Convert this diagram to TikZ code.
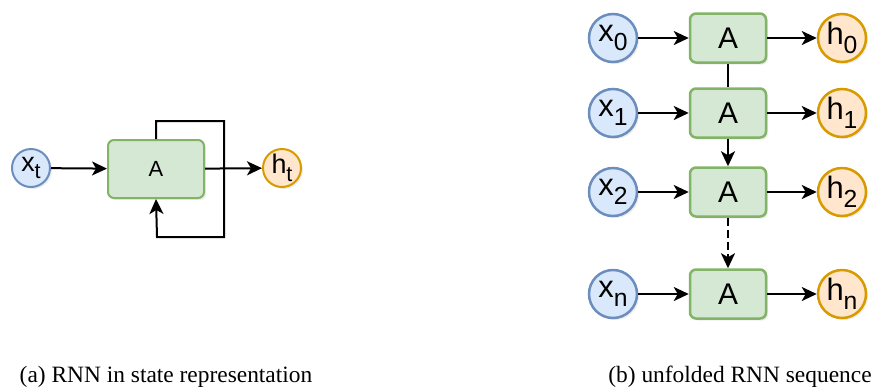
\documentclass[tikz,border=0pt]{standalone}
\usepackage{fontspec}
\setmainfont{Liberation Sans}
\newfontfamily\capfont{Liberation Serif}
\usepackage{graphicx}
\usepackage{xcolor}
\usepackage{tikz}
\usetikzlibrary{arrows.meta,shadows}

\definecolor{inblue}{HTML}{DAE8FC}
\definecolor{inbluedraw}{HTML}{6C8EBF}
\definecolor{cellgreen}{HTML}{D5E8D4}
\definecolor{cellgreendraw}{HTML}{82B366}
\definecolor{outorange}{HTML}{FFE6CC}
\definecolor{outorangedraw}{HTML}{D79B00}

\newcommand{\lsub}[1]{\raisebox{-0.28em}{\scalebox{0.8}{#1}}}

\begin{document}
\begin{tikzpicture}[x=1bp,y=-1bp]
\useasboundingbox (0,0) rectangle (878,387);

\tikzset{
  shadowed/.style={drop shadow={opacity=0.15,shadow xshift=2bp,shadow yshift=-2bp}},
  xin/.style={circle,draw=inbluedraw,fill=inblue,inner sep=0pt,shadowed},
  hout/.style={circle,draw=outorangedraw,fill=outorange,inner sep=0pt,shadowed},
  cell/.style={rectangle,rounded corners=6bp,draw=cellgreendraw,fill=cellgreen,inner sep=0pt,shadowed},
  arr/.style={-{Stealth[length=15bp,width=14bp,inset=4bp]}},
  dashline/.style={dash pattern=on 8bp off 4bp},
  captext/.style={anchor=base,font=\capfont\fontsize{23.5}{26}\selectfont}
}

% (a) state representation
\begin{scope}[line width=2bp]
\node[xin,minimum size=38bp,font=\fontsize{27}{30}\selectfont] (xt) at (31,168) {x\lsub{t}};
\node[cell,minimum width=96bp,minimum height=58bp] (cella) at (156,169) {\fontsize{22}{24}\selectfont A};
\node[hout,minimum size=38bp,font=\fontsize{27}{30}\selectfont] (ht) at (282,168) {h\lsub{t}};

\coordinate (c1) at (224,121);
\coordinate (c2) at (157,237);

\draw[arr] (xt) -- (cella);
\draw[arr] (cella) -- (ht);
% the loop back into the cell
\draw[arr] (cella.north) |- (c1) |- (c2) -- (cella.south);
\end{scope}

% (b) unfolded sequence
\begin{scope}[line width=2.5bp]
\foreach \y/\l/\n in {38/0/0,113/1/1,192/2/2,294/n/3}
{
\node[xin,minimum size=48bp,font=\fontsize{31}{33}\selectfont] (x\n) at (613,\y) {x\lsub{\l}};
\node[cell,minimum width=76bp,minimum height=49bp,font=\fontsize{30}{33}\selectfont] (a\n) at (728,\y) {A};
\node[hout,minimum size=48bp,font=\fontsize{31}{33}\selectfont] (h\n) at (842,\y) {h\lsub{\l}};
\draw[arr] (x\n) -- (a\n);
\draw[arr] (a\n) -- (h\n);
}

\draw (a0) -- (a1);
\draw[arr] (a1) -- (a2);
\draw[arr,dashline] (a2) -- (a3);
\end{scope}

% captions
\node[captext] (capa) at (166,382) {(a) RNN in state representation};
\node[captext] (capb) at (740,382) {(b) unfolded RNN sequence};

\end{tikzpicture}
\end{document}
